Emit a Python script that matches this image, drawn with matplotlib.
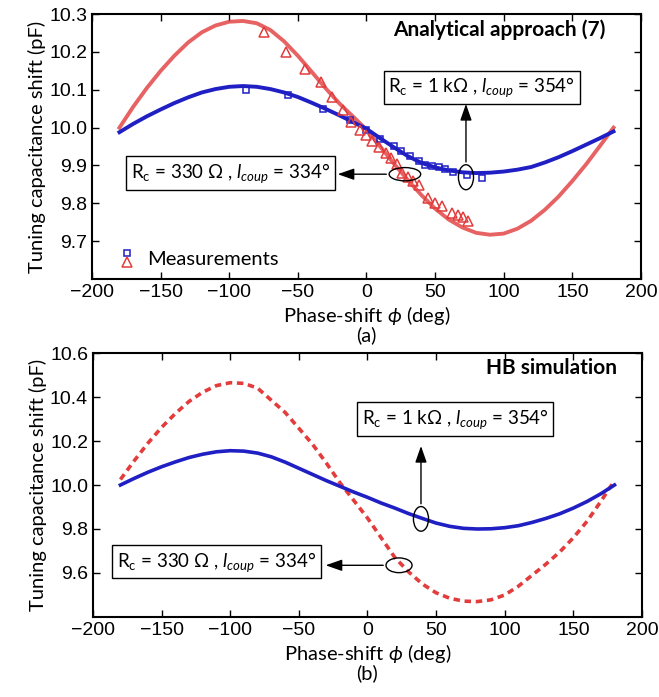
import numpy as np
import matplotlib
matplotlib.use('Agg')
import matplotlib.pyplot as plt
from matplotlib.patches import Ellipse
from matplotlib.lines import Line2D
from matplotlib.legend_handler import HandlerBase

plt.rcParams['font.family'] = ['Lato', 'DejaVu Sans']
plt.rcParams['mathtext.fontset'] = 'custom'
plt.rcParams['mathtext.rm'] = 'Lato'
plt.rcParams['mathtext.it'] = 'Lato:italic'

# phase grid (deg) for the analytical / HB curves
phi = [-180, -170, -160, -150, -140, -130, -120, -110, -100, -90, -80, -70, -60,
       -50, -40, -30, -20, -10, 0, 10, 20, 30, 40, 50, 60, 70, 80, 90, 100, 110,
       120, 130, 140, 150, 160, 170, 180]

# (a) analytical approach
ana_1k = [9.988, 10.010, 10.030, 10.048, 10.065, 10.080, 10.093, 10.102, 10.108, 10.110,
          10.108, 10.102, 10.093, 10.081, 10.066, 10.050, 10.033, 10.015, 9.997, 9.972,
          9.948, 9.925, 9.907, 9.895, 9.887, 9.882, 9.880, 9.881, 9.884, 9.889, 9.896,
          9.908, 9.922, 9.938, 9.955, 9.972, 9.990]
ana_330 = [10.000, 10.055, 10.105, 10.150, 10.190, 10.225, 10.252, 10.270, 10.280, 10.282,
           10.276, 10.258, 10.228, 10.190, 10.148, 10.105, 10.065, 10.030, 9.995, 9.950,
           9.905, 9.862, 9.822, 9.786, 9.757, 9.736, 9.722, 9.717, 9.720, 9.733, 9.754,
           9.783, 9.818, 9.859, 9.903, 9.951, 10.000]

# measurements
meas_1k_x = [-88, -57, -32, -12, 0, 10, 20, 25, 32, 38, 43, 48, 53, 57, 63, 73, 84]
meas_1k_y = [10.100, 10.085, 10.050, 10.020, 9.995, 9.970, 9.952, 9.937, 9.925, 9.912,
             9.900, 9.899, 9.895, 9.890, 9.883, 9.874, 9.868]
meas_330_x = [-75, -59, -45, -33, -25, -17, -11, -5, 0, 4, 9, 14, 18, 22, 26, 30, 34, 38,
              45, 50, 55, 62, 67, 70, 74]
meas_330_y = [10.253, 10.200, 10.155, 10.120, 10.080, 10.046, 10.015, 9.995, 9.980, 9.965,
              9.948, 9.932, 9.920, 9.905, 9.880, 9.870, 9.860, 9.848, 9.813, 9.800, 9.793,
              9.775, 9.770, 9.765, 9.752]

# (b) HB simulation
hb_1k = [10.000, 10.030, 10.058, 10.083, 10.105, 10.125, 10.140, 10.151, 10.156, 10.154,
         10.145, 10.128, 10.104, 10.076, 10.048, 10.020, 9.994, 9.968, 9.944, 9.918,
         9.895, 9.870, 9.848, 9.827, 9.812, 9.803, 9.800, 9.801, 9.806, 9.815, 9.830,
         9.848, 9.869, 9.895, 9.925, 9.960, 10.000]
hb_330 = [10.025, 10.110, 10.190, 10.262, 10.325, 10.380, 10.422, 10.452, 10.465, 10.462,
          10.440, 10.385, 10.330, 10.258, 10.185, 10.100, 10.010, 9.930, 9.850, 9.760,
          9.670, 9.605, 9.550, 9.510, 9.485, 9.472, 9.470, 9.478, 9.500, 9.540, 9.590,
          9.640, 9.695, 9.760, 9.835, 9.925, 10.020]

BLUE = '#1f1fc4'
RED = '#e23c3c'
lab_1k = r'R$_\mathregular{c}$ = 1 k$\Omega$ , $l_{coup}$ = 354°'
lab_330 = r'R$_\mathregular{c}$ = 330 $\Omega$ , $l_{coup}$ = 334°'
ARROW = dict(arrowstyle='-|>,head_length=1.0,head_width=0.35', color='black', lw=1)


class StackHandler(HandlerBase):
    # square above triangle, one label
    def create_artists(self, legend, orig_handle, xdescent, ydescent, width, height,
                       fontsize, trans):
        sq = Line2D([width / 2], [height * 0.85], ls='none', marker='s', ms=5,
                    mfc='none', mec=BLUE, mew=1.1, transform=trans)
        tr = Line2D([width / 2], [height * 0.2], ls='none', marker='^', ms=7,
                    mfc='none', mec=RED, mew=1.1, transform=trans)
        return [sq, tr]


def style(ax):
    ax.tick_params(direction='in', top=True, right=True, length=5, width=1,
                   labelsize=14)
    for t in ax.get_xticklabels() + ax.get_yticklabels():
        t.set_fontfamily('Liberation Sans')
    for s in ax.spines.values():
        s.set_linewidth(1.5)
    ax.set_xlim(-200, 200)
    ax.set_xticks(range(-200, 201, 50))


fig = plt.figure(figsize=(6.59, 6.97), dpi=100)
ax1 = fig.add_axes([0.1396, 0.5997, 0.833, 0.3800])
ax2 = fig.add_axes([0.1411, 0.1148, 0.833, 0.3787])

# ---- (a)
ax1.plot(phi, ana_330, color=RED, lw=2.8, alpha=0.8, zorder=3)
ax1.plot(phi, ana_1k, color=BLUE, lw=2.8, zorder=4)
ax1.plot(meas_1k_x, meas_1k_y, ls='none', marker='s', ms=5, mfc='none', mec=BLUE, mew=1.1, zorder=5)
ax1.plot(meas_330_x, meas_330_y, ls='none', marker='^', ms=7, mfc='none', mec=RED, mew=1.1, zorder=5)
ax1.set_ylim(9.6, 10.3)
ax1.set_yticks([9.7, 9.8, 9.9, 10.0, 10.1, 10.2, 10.3])
style(ax1)
ax1.set_ylabel('Tuning capacitance shift (pF)', fontsize=14.5, labelpad=2)
ax1.set_xlabel('Phase-shift $\\phi$ (deg)\n(a)', fontsize=14.5, labelpad=2, linespacing=0.95)
ax1.text(0.936, 0.943, 'Analytical approach (7)', transform=ax1.transAxes, ha='right',
         va='center', fontsize=15, fontweight='bold')

ax1.text(84, 10.107, lab_1k, ha='center', va='center', fontsize=13.5,
         bbox=dict(boxstyle='square,pad=0.25', fc='white', ec='black', lw=1))
ax1.text(-99, 9.880, lab_330, ha='center', va='center', fontsize=13.5,
         bbox=dict(boxstyle='square,pad=0.25', fc='white', ec='black', lw=1))
ax1.add_patch(Ellipse((72.5, 9.869), 11, 0.066, fill=False, ec='black', lw=1, zorder=6))
ax1.add_patch(Ellipse((28, 9.877), 23, 0.035, fill=False, ec='black', lw=1, zorder=6))
ax1.annotate('', xy=(72.5, 10.07), xytext=(72.5, 9.902), arrowprops=ARROW)
ax1.annotate('', xy=(-23, 9.877), xytext=(16.5, 9.877), arrowprops=ARROW)

ax1.legend([('sq', 'tri')], ['Measurements'], handler_map={tuple: StackHandler()},
           loc='lower left', frameon=False, fontsize=14.5, handlelength=1.0,
           handletextpad=0.5, borderaxespad=0.3, bbox_to_anchor=(0.02, -0.01))

# ---- (b)
ax2.plot(phi, hb_330, color=RED, lw=2.6, ls=(0, (1.8, 1.3)), zorder=3)
ax2.plot(phi, hb_1k, color=BLUE, lw=2.6, zorder=4)
ax2.set_ylim(9.4, 10.6)
ax2.set_yticks([9.6, 9.8, 10.0, 10.2, 10.4, 10.6])
style(ax2)
ax2.set_ylabel('Tuning capacitance shift (pF)', fontsize=14.5, labelpad=2)
ax2.set_xlabel('Phase-shift $\\phi$ (deg)\n(b)', fontsize=14.5, labelpad=2, linespacing=0.95)
ax2.text(0.955, 0.943, 'HB simulation', transform=ax2.transAxes, ha='right',
         va='center', fontsize=15, fontweight='bold')

ax2.text(64, 10.30, lab_1k, ha='center', va='center', fontsize=13.5,
         bbox=dict(boxstyle='square,pad=0.25', fc='white', ec='black', lw=1))
ax2.text(-110, 9.651, lab_330, ha='center', va='center', fontsize=13.5,
         bbox=dict(boxstyle='square,pad=0.25', fc='white', ec='black', lw=1))
ax2.add_patch(Ellipse((39, 9.846), 11, 0.112, fill=False, ec='black', lw=1, zorder=6))
ax2.add_patch(Ellipse((23, 9.635), 19, 0.067, fill=False, ec='black', lw=1, zorder=6))
ax2.annotate('', xy=(39, 10.19), xytext=(39, 9.902), arrowprops=ARROW)
ax2.annotate('', xy=(-32.5, 9.635), xytext=(13.5, 9.635), arrowprops=ARROW)

fig.savefig('out.png', dpi=100)
